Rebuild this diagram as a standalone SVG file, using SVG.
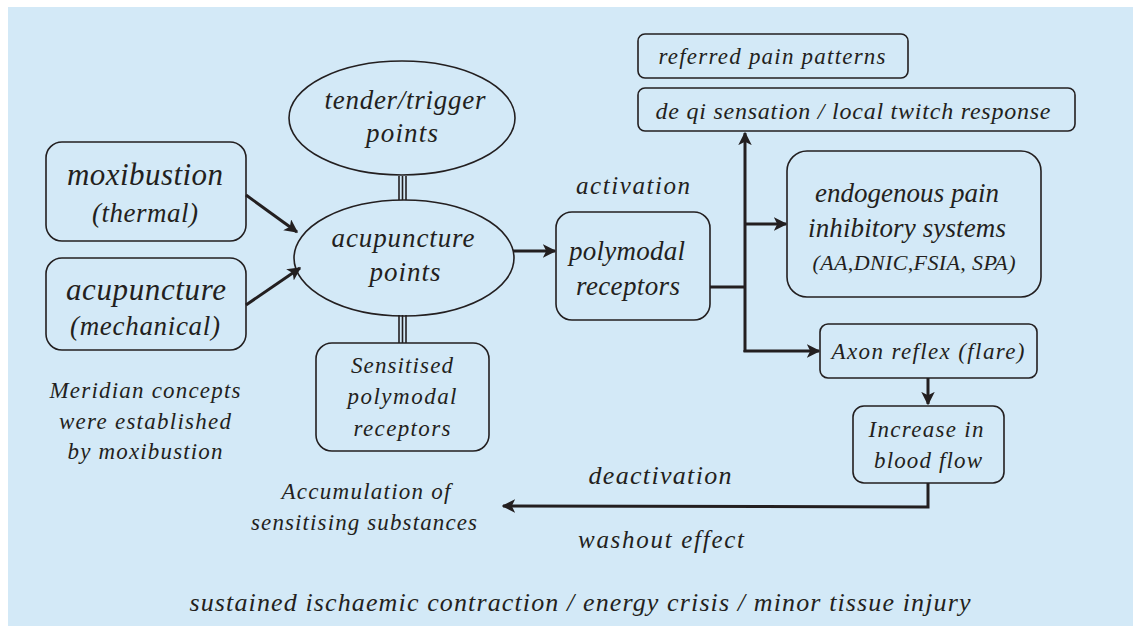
<svg xmlns="http://www.w3.org/2000/svg" width="1133" height="626" viewBox="0 0 1133 626">
<style>
text{font-family:"Liberation Serif","Times New Roman",serif;font-style:italic;fill:#231f20;text-anchor:middle}
.box{fill:none;stroke:#231f20;stroke-width:1.6}
.ln{fill:none;stroke:#231f20;stroke-width:3}
.dl{stroke:#231f20;stroke-width:1.6}
</style>
<defs>
<marker id="ah" viewBox="0 0 10 10" refX="9" refY="5" markerWidth="4.5" markerHeight="4.5" orient="auto" markerUnits="strokeWidth">
<path d="M0,0 L10,5 L0,10 L2.5,5 Z" fill="#231f20"/>
</marker>
</defs>
<rect x="8" y="7" width="1125" height="619" fill="#d3e9f7"/>

<g id="connectors">
<line class="ln" x1="246" y1="195" x2="297" y2="232" marker-end="url(#ah)"/>
<line class="ln" x1="246" y1="305" x2="300" y2="268" marker-end="url(#ah)"/>
<line class="ln" x1="513" y1="251" x2="555" y2="251" marker-end="url(#ah)"/>
<g id="dbl1"><line class="dl" x1="399" y1="176" x2="399" y2="200"/><line class="dl" x1="402.5" y1="176" x2="402.5" y2="200"/><line class="dl" x1="406" y1="176" x2="406" y2="200"/></g>
<g id="dbl2"><line class="dl" x1="399" y1="315" x2="399" y2="343"/><line class="dl" x1="402.5" y1="315" x2="402.5" y2="343"/><line class="dl" x1="406" y1="315" x2="406" y2="343"/></g>
<polyline class="ln" points="710,287 745,287"/>
<line class="ln" x1="745" y1="352" x2="745" y2="133" marker-end="url(#ah)"/>
<line class="ln" x1="745" y1="224" x2="786" y2="224" marker-end="url(#ah)"/>
<polyline class="ln" points="745,350 745,351 819,351" marker-end="url(#ah)"/>
<line class="ln" x1="928" y1="378" x2="928" y2="404" marker-end="url(#ah)"/>
<polyline class="ln" points="928,483 928,507 503,506" marker-end="url(#ah)"/>
</g>

<g id="moxibustion"><rect class="box" x="46" y="142" width="200" height="99" rx="16"/>
<text x="145" y="185" font-size="31" textLength="156">moxibustion</text><text x="145" y="222" font-size="27" textLength="106">(thermal)</text></g>
<g id="acupuncture"><rect class="box" x="46" y="258" width="200" height="92" rx="16"/>
<text x="146" y="300" font-size="31" textLength="160">acupuncture</text><text x="145" y="335" font-size="27" textLength="150">(mechanical)</text></g>
<g id="tender"><ellipse class="box" cx="402" cy="118" rx="113" ry="57"/>
<text x="405" y="109" font-size="27" textLength="161">tender/trigger</text><text x="402" y="142" font-size="27" textLength="72">points</text></g>
<g id="acupoints"><ellipse class="box" cx="404" cy="258" rx="110" ry="58"/>
<text x="403" y="247" font-size="27" textLength="143">acupuncture</text><text x="405" y="281" font-size="27" textLength="71">points</text></g>
<g id="sensitised"><rect class="box" x="316" y="343" width="173" height="108" rx="16"/>
<text x="402" y="373" font-size="23" textLength="102">Sensitised</text><text x="402" y="404" font-size="23" textLength="109">polymodal</text><text x="402" y="436" font-size="23" textLength="97">receptors</text></g>
<g id="polymodal"><rect class="box" x="556" y="212" width="154" height="108" rx="16"/>
<text x="627" y="260" font-size="27" textLength="116">polymodal</text><text x="628" y="295" font-size="27" textLength="104">receptors</text></g>
<g id="activation"><text x="633" y="194" font-size="25" textLength="114">activation</text></g>
<g id="referred"><rect class="box" x="638" y="34" width="270" height="44" rx="7"/>
<text x="772" y="64" font-size="23" textLength="227">referred pain patterns</text></g>
<g id="deqi"><rect class="box" x="638" y="88" width="437" height="43" rx="7"/>
<text x="853" y="119" font-size="24" textLength="395">de qi sensation / local twitch response</text></g>
<g id="endogenous"><rect class="box" x="787" y="151" width="254" height="146" rx="20"/>
<text x="907" y="202" font-size="27" textLength="184">endogenous pain</text><text x="907" y="237" font-size="27" textLength="198">inhibitory systems</text><text x="914" y="270" font-size="22" textLength="203">(AA,DNIC,FSIA, SPA)</text></g>
<g id="axon"><rect class="box" x="820" y="324" width="217" height="54" rx="8"/>
<text x="928" y="359" font-size="23" textLength="193">Axon reflex (flare)</text></g>
<g id="bloodflow"><rect class="box" x="853" y="406" width="151" height="77" rx="11"/>
<text x="926" y="437" font-size="23" textLength="115">Increase in</text><text x="928" y="468" font-size="23" textLength="108">blood flow</text></g>
<g id="meridian"><text x="145" y="398" font-size="23" textLength="191">Meridian concepts</text><text x="145" y="429" font-size="23" textLength="172">were established</text><text x="145" y="459" font-size="23" textLength="155">by moxibustion</text></g>
<g id="accumulation"><text x="366" y="499" font-size="23" textLength="169">Accumulation of</text><text x="364" y="530" font-size="23" textLength="226">sensitising substances</text></g>
<g id="deactivation"><text x="660" y="484" font-size="26" textLength="143">deactivation</text></g>
<g id="washout"><text x="661" y="548" font-size="25" textLength="166">washout effect</text></g>
<g id="bottom"><text x="580" y="611" font-size="26" textLength="781">sustained ischaemic contraction / energy crisis / minor tissue injury</text></g>
</svg>
